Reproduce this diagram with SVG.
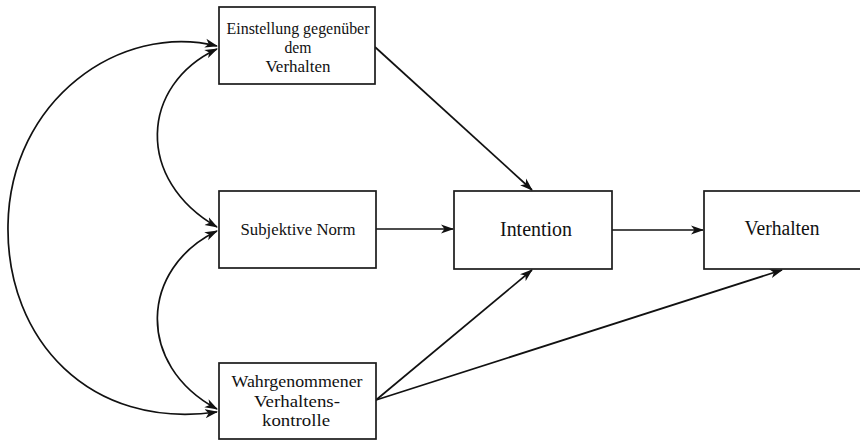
<svg xmlns="http://www.w3.org/2000/svg" width="860" height="440" viewBox="0 0 860 440">
<style>
.box{fill:#fff;stroke:#1a1a1a;stroke-width:1.7}
.lbl{font-family:"Liberation Serif","Times New Roman",serif;font-size:20px;fill:#111;text-anchor:middle}
.sm{font-size:17px}
.con{fill:none;stroke:#111;stroke-width:1.7}
</style>
<defs>
<marker id="ah" viewBox="0 0 13 10" refX="12" refY="5" markerWidth="13" markerHeight="10" markerUnits="userSpaceOnUse" orient="auto-start-reverse">
<path d="M0,0.5 L13,5 L0,9.5 L3.5,5 Z" fill="#111"/>
</marker>
</defs>
<rect width="860" height="440" fill="#fff"/>
<g id="connectors">
<path class="con" d="M375,47 L532,190" marker-end="url(#ah)"/>
<path class="con" d="M376,229 L453,229" marker-end="url(#ah)"/>
<path class="con" d="M376,400 L532,270" marker-end="url(#ah)"/>
<path class="con" d="M376,400 L782,270" marker-end="url(#ah)"/>
<path class="con" d="M612,230 L703,230" marker-end="url(#ah)"/>
<path class="con" d="M217,46 C120,22 10,100 8,225 C6,340 90,430 217,412" marker-start="url(#ah)" marker-end="url(#ah)"/>
<path class="con" d="M217,49 C140,85 135,180 217,227" marker-start="url(#ah)" marker-end="url(#ah)"/>
<path class="con" d="M217,231 C140,268 135,365 217,409" marker-start="url(#ah)" marker-end="url(#ah)"/>
</g>
<g id="einstellung">
<rect class="box" x="219" y="7" width="156" height="77"/>
<text class="lbl sm" x="298" y="34" textLength="143" lengthAdjust="spacingAndGlyphs">Einstellung gegenüber</text>
<text class="lbl sm" x="298" y="53" textLength="27" lengthAdjust="spacingAndGlyphs">dem</text>
<text class="lbl sm" x="298" y="72" textLength="65" lengthAdjust="spacingAndGlyphs">Verhalten</text>
</g>
<g id="subjektive-norm">
<rect class="box" x="219" y="191" width="157" height="77"/>
<text class="lbl sm" x="298" y="235" textLength="115" lengthAdjust="spacingAndGlyphs">Subjektive Norm</text>
</g>
<g id="wahrgenommene-kontrolle">
<rect class="box" x="219" y="363" width="157" height="76"/>
<text class="lbl sm" x="297" y="387" textLength="131" lengthAdjust="spacingAndGlyphs">Wahrgenommener</text>
<text class="lbl sm" x="297" y="407" textLength="86" lengthAdjust="spacingAndGlyphs">Verhaltens-</text>
<text class="lbl sm" x="296" y="426" textLength="68" lengthAdjust="spacingAndGlyphs">kontrolle</text>
</g>
<g id="intention">
<rect class="box" x="454" y="191" width="158" height="78"/>
<text class="lbl" x="536" y="236" textLength="72" lengthAdjust="spacingAndGlyphs">Intention</text>
</g>
<g id="verhalten">
<rect class="box" x="704" y="191" width="160" height="78"/>
<text class="lbl" x="782" y="235" textLength="75" lengthAdjust="spacingAndGlyphs">Verhalten</text>
</g>
</svg>
